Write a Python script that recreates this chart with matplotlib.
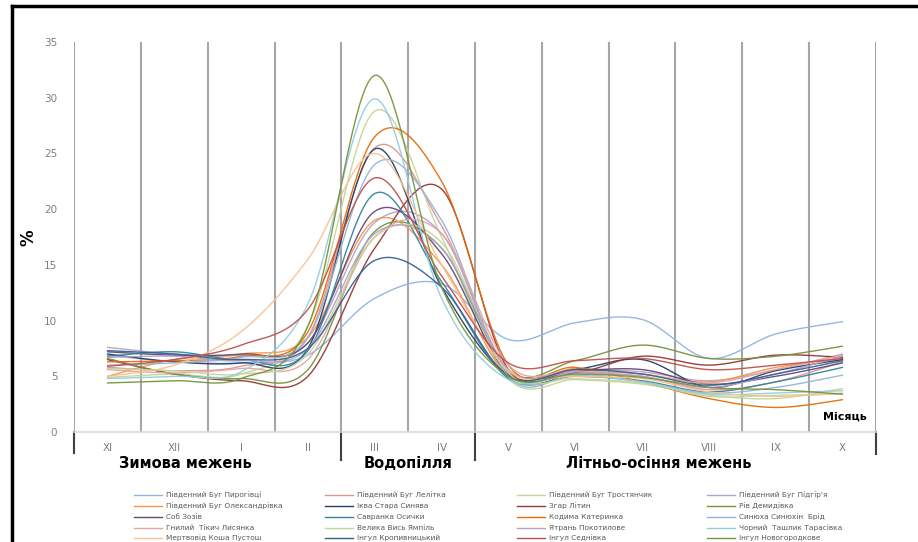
import numpy as np
import matplotlib.pyplot as plt
from matplotlib.lines import Line2D
import matplotlib.transforms as mtransforms

plt.rcParams['font.family'] = ['DejaVu Sans']

# --- data ---
months = ["XI", "XII", "I", "II", "III", "IV", "V", "VI", "VII", "VIII", "IX", "X"]
seasons = ["Зимова межень", "Водопілля", "Літньо-осіння межень"]

names = [
    "Південний Буг Пирогівці", "Південний Буг Лелітка", "Південний Буг Тростянчик", "Південний Буг Підгір'я",
    "Південний Буг Олександрівка", "Іква Стара Синява", "Згар Літин", "Рів Демидівка",
    "Соб Зозів", "Савранка Осички", "Кодима Катеринка", "Синюха Синюхін  Брід",
    "Гнилий  Тікич Лисянка", "Велика Вись Ямпіль", "Ятрань Покотилове", "Чорний  Ташлик Тарасівка",
    "Мертвовід Коша Пустош", "Інгул Кропивницький", "Інгул Седнівка", "Інгул Новогородкове",
]
colors = [
    "#8EB4E3", "#D99694", "#C3D69B", "#B3A2C7",
    "#F79646", "#254061", "#953735", "#76923C",
    "#5F497A", "#31859C", "#E46C0A", "#95B3D7",
    "#E6A5A3", "#C3D69B", "#B3A2C7", "#93CDDD",
    "#FAC090", "#376092", "#C0504D", "#77933C",
]

pyrohivtsi   = [6.9, 6.3, 6.2, 6.9, 12.0, 13.3, 8.3, 9.8, 10.1, 6.6, 8.8, 9.9]
lelitka      = [5.8, 5.5, 5.9, 8.5, 25.5, 18.5, 5.5, 5.3, 5.0, 3.8, 4.5, 6.3]
trostianchyk = [4.9, 5.2, 5.2, 9.5, 28.8, 17.5, 4.8, 4.7, 4.3, 3.3, 3.0, 3.9]
pidhirya     = [7.6, 7.0, 6.9, 8.0, 18.8, 17.8, 5.3, 5.6, 5.4, 4.6, 5.6, 7.0]
oleksandrivka = [5.0, 6.5, 7.0, 8.5, 19.0, 15.0, 5.0, 5.7, 5.2, 4.5, 5.8, 6.6]
ikva         = [7.0, 6.3, 6.2, 7.5, 25.4, 13.0, 5.1, 5.6, 6.5, 4.0, 5.5, 6.5]
zhar         = [6.5, 5.2, 4.6, 5.0, 16.5, 21.8, 5.6, 5.3, 6.8, 6.0, 6.9, 6.7]
riv          = [6.6, 5.2, 4.8, 5.6, 18.0, 16.5, 5.5, 6.4, 7.8, 6.6, 6.8, 7.7]
sob          = [7.2, 6.9, 7.0, 8.0, 19.8, 16.0, 5.2, 5.5, 5.6, 4.3, 5.0, 6.2]
savranka     = [6.8, 7.2, 6.5, 7.3, 21.4, 13.5, 4.8, 5.0, 4.6, 3.6, 4.5, 5.8]
kodyma       = [6.3, 6.4, 6.8, 9.0, 26.5, 22.5, 6.0, 5.8, 4.5, 3.0, 2.2, 2.9]
syniukha     = [6.0, 6.2, 6.7, 8.5, 24.0, 19.0, 5.0, 5.1, 4.5, 3.5, 4.0, 5.1]
tikych       = [5.6, 5.3, 5.7, 6.5, 17.5, 17.8, 6.0, 5.5, 5.2, 4.4, 5.6, 6.9]
vys          = [5.7, 5.5, 5.2, 7.0, 17.5, 17.0, 5.3, 4.8, 4.4, 3.2, 3.3, 3.4]
yatran       = [6.7, 6.8, 6.4, 7.5, 17.8, 16.5, 5.6, 5.4, 5.0, 4.0, 5.2, 6.8]
tashlyk      = [4.8, 5.0, 5.4, 11.5, 29.9, 12.0, 4.7, 5.2, 4.5, 3.4, 3.5, 3.7]
mertvovid    = [5.0, 6.0, 9.0, 15.5, 25.0, 15.0, 5.5, 5.0, 4.8, 3.6, 3.2, 3.5]
kropyvnytskyi = [7.3, 7.0, 6.5, 7.5, 15.4, 13.0, 5.0, 5.6, 5.2, 4.2, 5.2, 6.4]
sednivka     = [5.9, 6.5, 7.8, 11.0, 22.8, 14.0, 6.2, 6.4, 6.6, 5.6, 6.0, 6.6]
novohorodka  = [4.4, 4.6, 4.8, 9.5, 32.0, 13.0, 5.0, 5.2, 4.9, 4.0, 3.8, 3.4]

series = [pyrohivtsi, lelitka, trostianchyk, pidhirya, oleksandrivka, ikva, zhar, riv,
          sob, savranka, kodyma, syniukha, tikych, vys, yatran, tashlyk,
          mertvovid, kropyvnytskyi, sednivka, novohorodka]


def smooth(vals, n=40):
    # Excel-like smoothed line (Catmull-Rom as cubic Bezier)
    y = np.asarray(vals, float)
    x = np.arange(len(y), dtype=float)
    xs, ys = [], []
    t = np.linspace(0, 1, n)
    for i in range(len(y) - 1):
        i0 = max(i - 1, 0)
        i3 = min(i + 2, len(y) - 1)
        for arr, out in ((x, xs), (y, ys)):
            p0, p1, p2, p3 = arr[i0], arr[i], arr[i + 1], arr[i3]
            c1 = p1 + (p2 - p0) / 6
            c2 = p2 - (p3 - p1) / 6
            out.append((1 - t) ** 3 * p1 + 3 * (1 - t) ** 2 * t * c1
                       + 3 * (1 - t) * t ** 2 * c2 + t ** 3 * p2)
    return np.concatenate(xs), np.concatenate(ys)


fig = plt.figure(figsize=(9.18, 5.42), dpi=100)
ax = fig.add_axes([74 / 918, 1 - 432 / 542, 802 / 918, 390 / 542])

for vals, c in zip(series, colors):
    sx, sy = smooth(vals)
    ax.plot(sx, sy, color=c, lw=1.0, alpha=0.95, solid_capstyle="round")

ax.set_xlim(-0.5, len(months) - 0.5)
ax.set_ylim(0, 35)
ax.set_yticks(np.arange(0, 36, 5))
ax.set_xticks(range(len(months)))
ax.set_xticklabels(months)
ax.tick_params(axis="both", length=0, labelsize=7.5, labelcolor="#7F7F7F")
ax.tick_params(axis="y", pad=12)
ax.tick_params(axis="x", pad=8)
for s in ["top", "right", "left"]:
    ax.spines[s].set_visible(False)
ax.spines["bottom"].set_color("#D9D9D9")
ax.spines["bottom"].set_linewidth(1.2)

# vertical gridlines between categories
for b in np.arange(-0.5, len(months), 1.0):
    ax.axvline(b, color="#A6A6A6", lw=1.5, zorder=0)

# season group separators and labels
trans = mtransforms.blended_transform_factory(ax.transData, fig.transFigure)
sep_ends = {-0.5: 453, 3.5: 460, 5.5: 460, 11.5: 454}
for xb, yend in sep_ends.items():
    ax.add_line(Line2D([xb, xb], [1 - 432 / 542, 1 - yend / 542], transform=trans,
                       color="#404040", lw=1.5, clip_on=False))
season_x = [185 / 918, 408 / 918, 659 / 918]
for name, sx in zip(seasons, season_x):
    fig.text(sx, 1 - 463 / 542, name, ha="center", va="center",
             fontsize=10.5, fontweight="bold", color="black")

fig.text(28 / 918, 1 - 238 / 542, "%", rotation=90, ha="center", va="center",
         fontsize=12, fontweight="bold")
fig.text(845 / 918, 1 - 417 / 542, "Місяць", ha="center", va="center",
         fontsize=8, fontweight="bold")

# legend drawn in four columns
col_x = [134, 325, 517, 707]
row_y = [495, 506, 517, 528, 538]
for k, (name, c) in enumerate(zip(names, colors)):
    r, cidx = divmod(k, 4)
    x0 = col_x[cidx]
    y0 = 1 - row_y[r] / 542
    fig.add_artist(Line2D([x0 / 918, (x0 + 28) / 918], [y0, y0], color=c, lw=1.0))
    fig.text((x0 + 32) / 918, y0, name, ha="left", va="center", fontsize=5.3, color="#595959")

# black frame (left and top)
fig.add_artist(Line2D([12 / 918, 12 / 918], [0, 1 - 6 / 542], color="black", lw=2.5))
fig.add_artist(Line2D([12 / 918, 1], [1 - 6 / 542, 1 - 6 / 542], color="black", lw=2.5))

fig.savefig("out.png", dpi=100)
